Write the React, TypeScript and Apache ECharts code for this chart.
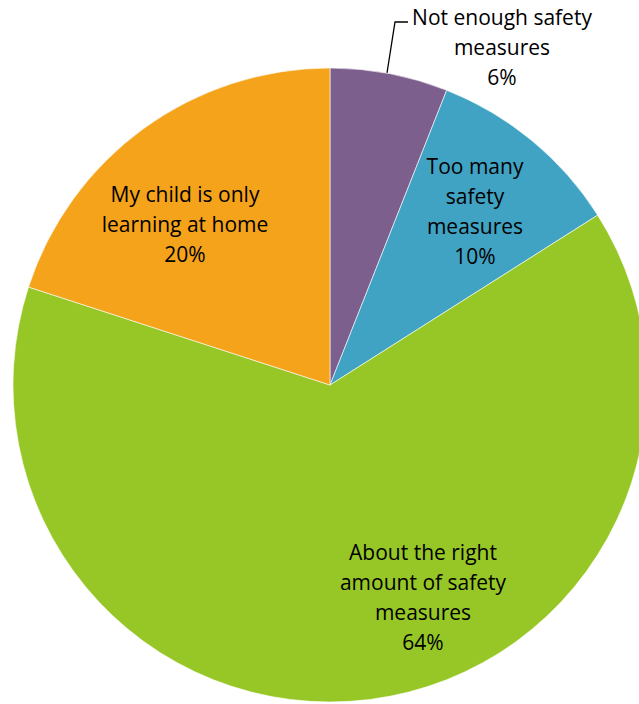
import React, { useEffect, useRef } from "react";
import * as echarts from "echarts";

const categories = [
  "Not enough safety\nmeasures",
  "Too many\nsafety\nmeasures",
  "About the right\namount of safety\nmeasures",
  "My child is only\nlearning at home",
];
const values = [6, 10, 64, 20];
const colors = ["#7D5F8E", "#40A3C3", "#97C727", "#F4A31B"];

// label anchor positions (text centre) in px
const labelPos = [
  [502, 47],
  [475, 211],
  [423, 597],
  [185, 224],
];

export default function App() {
  const ref = useRef<HTMLDivElement>(null);
  useEffect(() => {
    const chart = echarts.init(ref.current!, null, { renderer: "svg" });
    chart.setOption({
      animation: false,
      backgroundColor: "#ffffff",
      series: [
        {
          type: "pie",
          center: [330, 385],
          radius: 317,
          startAngle: 90,
          clockwise: true,
          avoidLabelOverlap: false,
          itemStyle: { borderColor: "#ffffff", borderWidth: 0.6 },
          label: {
            show: true,
            color: "#000000",
            fontFamily: "'Open Sans', sans-serif",
            fontSize: 21,
            lineHeight: 30,
            align: "center",
            formatter: (p: any) => `${p.name}\n${p.value}%`,
          },
          labelLine: {
            show: true,
            lineStyle: { color: "#000000", width: 1.3 },
          },
          labelLayout: (p: any) => {
            const i = p.dataIndex;
            const res: any = {
              x: labelPos[i][0],
              y: labelPos[i][1],
              align: "center",
              verticalAlign: "middle",
            };
            if (i === 0) {
              res.labelLinePoints = [
                [387, 73],
                [395, 22],
                [408, 22],
              ];
            }
            return res;
          },
          data: values.map((v, i) => ({
            value: v,
            name: categories[i],
            itemStyle: { color: colors[i] },
            label: { position: i === 0 ? "outside" : "inside" },
            labelLine: { show: i === 0 },
          })),
        },
      ],
    });
    return () => chart.dispose();
  }, []);
  return (
    <div
      ref={ref}
      style={{ position: "fixed", left: 0, top: 0, width: 639, height: 704 }}
    />
  );
}
